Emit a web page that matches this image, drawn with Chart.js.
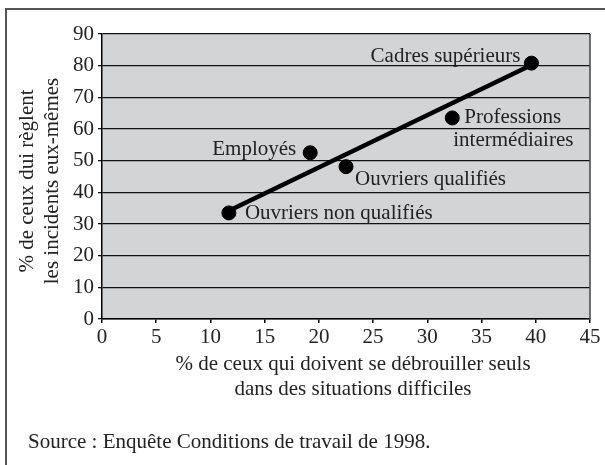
<!DOCTYPE html>
<html>
<head>
<meta charset="utf-8">
<script src="https://cdn.jsdelivr.net/npm/chart.js@4.4.0/dist/chart.umd.min.js"></script>
<style>
  html, body { margin: 0; padding: 0; background: #fff; }
  #wrap { width: 605px; height: 465px; }
</style>
</head>
<body>
<div id="wrap"><canvas id="chart" width="605" height="465"></canvas></div>
<script>
// Data
const groups = ['Cadres supérieurs', ['Professions', 'intermédiaires'], 'Employés', 'Ouvriers qualifiés', 'Ouvriers non qualifiés'];
const debrouiller = [39.6, 32.3, 19.2, 22.5, 11.7];   // % qui doivent se débrouiller seuls
const reglent = [80.8, 63.5, 52.5, 48.1, 33.5];       // % qui règlent les incidents eux-mêmes
const trendX = [11.7, 39.6];
const trendY = [34.2, 80.2];
const xTicks = [0, 5, 10, 15, 20, 25, 30, 35, 40, 45];
const yTicks = [0, 10, 20, 30, 40, 50, 60, 70, 80, 90];
const xTitle = ['% de ceux qui doivent se débrouiller seuls', 'dans des situations difficiles'];
const yTitle = ['% de ceux dui règlent', 'les incidents eux-mêmes'];
const sourceText = 'Source : Enquête Conditions de travail de 1998.';

// label placement relative to each point: [dx, dy, align]
const labelPlace = [[-11, -1, 'right'], [12, 5, 'left'], [-14, 2, 'right'], [9, 18, 'left'], [16, 6, 'left']];

const FONT = '"Liberation Serif", "Times New Roman", serif';
const TEXT = '#222';

const framePlugin = {
    id: 'frame',
    beforeDraw(chart) {
        const { ctx, chartArea: a } = chart;
        ctx.save();
        ctx.fillStyle = '#d3d4d6';
        ctx.fillRect(a.left, a.top, a.right - a.left, a.bottom - a.top);
        // outer box (top and left only visible)
        ctx.strokeStyle = '#555';
        ctx.lineWidth = 2;
        ctx.beginPath();
        ctx.moveTo(6, 465);
        ctx.lineTo(6, 9);
        ctx.lineTo(605, 9);
        ctx.stroke();
        ctx.restore();
    },
    afterDatasetsDraw(chart) {
        const { ctx, chartArea: a, scales } = chart;
        ctx.save();
        // right edge of plot
        ctx.strokeStyle = '#444';
        ctx.lineWidth = 1.5;
        ctx.beginPath();
        ctx.moveTo(a.right, a.top);
        ctx.lineTo(a.right, a.bottom);
        ctx.stroke();

        ctx.fillStyle = TEXT;
        ctx.font = '21px ' + FONT;
        ctx.textBaseline = 'alphabetic';
        // point labels
        groups.forEach((g, i) => {
            const px = scales.x.getPixelForValue(debrouiller[i]);
            const py = scales.y.getPixelForValue(reglent[i]);
            const [dx, dy, align] = labelPlace[i];
            ctx.textAlign = align;
            if (Array.isArray(g)) {
                ctx.fillText(g[0], px + dx, py + dy);
                ctx.fillText(g[1], px + 1, py + dy + 23);
            } else {
                ctx.fillText(g, px + dx, py + dy);
            }
        });

        // axis titles
        const cx = 353;
        ctx.textAlign = 'center';
        ctx.fillText(xTitle[0], cx, 370);
        ctx.fillText(xTitle[1], cx, 395);

        ctx.save();
        ctx.translate(33, 181);
        ctx.rotate(-Math.PI / 2);
        ctx.fillText(yTitle[0], 0, 0);
        ctx.fillText(yTitle[1], 0, 25);
        ctx.restore();

        ctx.textAlign = 'left';
        ctx.fillText(sourceText, 28, 448);
        ctx.restore();
    }
};

const ctx = document.getElementById('chart').getContext('2d');
new Chart(ctx, {
    type: 'scatter',
    data: {
        datasets: [
            {
                label: 'Catégories',
                data: debrouiller.map((x, i) => ({ x: x, y: reglent[i] })),
                backgroundColor: '#000',
                borderColor: '#000',
                pointRadius: 7,
                order: 1
            },
            {
                type: 'line',
                label: 'Tendance',
                data: trendX.map((x, i) => ({ x: x, y: trendY[i] })),
                borderColor: '#000',
                borderWidth: 4.5,
                borderCapStyle: 'round',
                pointRadius: 0,
                fill: false,
                order: 2
            }
        ]
    },
    options: {
        responsive: false,
        animation: false,
        layout: { padding: { left: 10, top: 34, right: 15, bottom: 106 } },
        plugins: {
            legend: { display: false },
            tooltip: { enabled: false }
        },
        scales: {
            x: {
                type: 'linear',
                min: 0,
                max: 45,
                afterBuildTicks: (scale) => { scale.ticks = xTicks.map(v => ({ value: v })); },
                afterFit: (scale) => { scale.height = 40; },
                ticks: { font: { family: FONT, size: 21 }, color: TEXT, padding: 2, maxRotation: 0 },
                grid: { drawOnChartArea: false, drawTicks: true, tickLength: 4, color: '#000', lineWidth: 1.5 },
                border: { color: '#000', width: 1.5 }
            },
            y: {
                type: 'linear',
                min: 0,
                max: 90,
                afterBuildTicks: (scale) => { scale.ticks = yTicks.map(v => ({ value: v })); },
                afterFit: (scale) => { scale.width = 92; },
                ticks: { font: { family: FONT, size: 21 }, color: TEXT, padding: 4 },
                grid: { color: '#111', lineWidth: 1.3, tickLength: 4, drawTicks: true },
                border: { color: '#000', width: 1.5 }
            }
        }
    },
    plugins: [framePlugin]
});
</script>
</body>
</html>
